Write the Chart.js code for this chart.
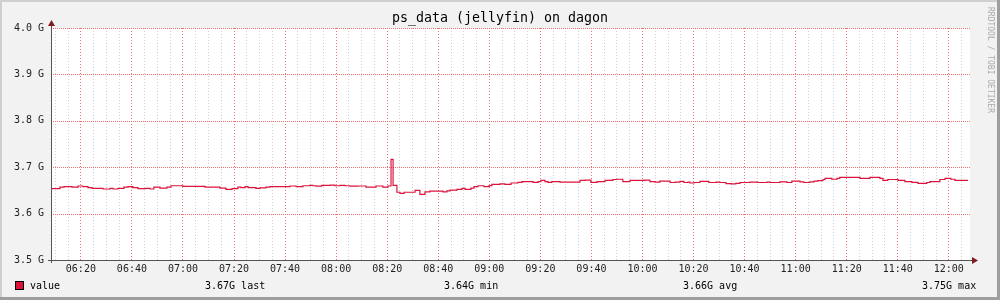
<!DOCTYPE html>
<html>
<head>
<meta charset="utf-8">
<script src="https://cdn.jsdelivr.net/npm/chart.js@4.4.1/dist/chart.umd.min.js"></script>
<style>
  html, body { margin: 0; padding: 0; background: #f2f2f2; }
  #wrap { width: 1000px; height: 300px; }
</style>
</head>
<body>
<div id="wrap"><canvas id="chart" width="1000" height="300"></canvas></div>
<script>
// time of each step, minutes after 06:00
const stepTimes = [
  8.3, 11.8, 13.4, 16.5, 18.9, 20.8, 22.8, 24.4, 28.7, 31.4, 32.6, 34.5, 36.9, 38.5, 40.4, 42.4,
  45.5, 47.1, 48.6, 51.0, 53.7, 55.3, 60.0, 68.6, 74.5, 76.8, 79.2, 81.5, 82.7, 84.3, 85.5, 88.6,
  90.2, 92.5, 94.1, 101.9, 104.3, 107.0, 109.7, 110.9, 112.1, 114.4, 117.6, 119.5, 121.5, 123.5,
  125.4, 128.5, 131.7, 135.6, 138.3, 140.3, 141.5, 142.3, 143.8, 145.0, 146.6, 150.9, 152.8, 154.8,
  156.7, 161.8, 163.4, 164.6, 167.3, 169.3, 170.5, 172.8, 174.0, 175.6, 177.9, 179.9, 181.0, 184.2,
  186.1, 188.5, 191.2, 192.8, 197.1, 199.1, 200.2, 201.8, 203.0, 204.5, 207.7, 215.5, 217.5, 219.8,
  222.2, 225.3, 228.4, 230.0, 232.3, 235.1, 241.0, 242.9, 244.9, 246.8, 250.8, 252.7, 254.7, 256.2,
  257.8, 258.6, 260.2, 262.5, 266.0, 268.8, 270.3, 272.7, 274.7, 276.6, 278.2, 282.1, 285.2, 288.8,
  289.9, 293.8, 296.6, 298.5, 301.7, 303.2, 305.6, 307.2, 308.7, 310.7, 311.5, 314.2, 316.2, 317.3,
  325.2, 329.1, 333.0, 334.2, 336.1, 340.1, 342.8, 345.5, 347.9, 351.4, 352.6, 356.5, 358.5, 360.8,
  362.4, 364.4, 367.5
];
// ps_data value in G
const dataValues = [
  3.652, 3.654, 3.657, 3.658, 3.657, 3.6595, 3.658, 3.656, 3.6545, 3.653, 3.6545, 3.653, 3.6545, 3.657, 3.658, 3.656,
  3.654, 3.6545, 3.653, 3.657, 3.655, 3.657, 3.660, 3.6588, 3.657, 3.655, 3.652, 3.654, 3.657, 3.656, 3.658, 3.656,
  3.6545, 3.6555, 3.657, 3.658, 3.6595, 3.658, 3.660, 3.661, 3.660, 3.659, 3.661, 3.6615, 3.660, 3.661,
  3.660, 3.659, 3.6595, 3.657, 3.6595, 3.657, 3.6595, 3.717, 3.661, 3.646, 3.6435, 3.646, 3.650, 3.6415,
  3.647, 3.6485, 3.647, 3.649, 3.6505, 3.652, 3.6545, 3.652, 3.655, 3.658, 3.660, 3.658, 3.6605, 3.663,
  3.664, 3.663, 3.666, 3.6675, 3.669, 3.6675, 3.669, 3.6715, 3.669, 3.6675, 3.669, 3.668, 3.6715, 3.672,
  3.6675, 3.669, 3.6715, 3.6735, 3.674, 3.669, 3.6715, 3.672, 3.669, 3.668, 3.670, 3.667, 3.668, 3.6695,
  3.667, 3.668, 3.666, 3.667, 3.6695, 3.667, 3.668, 3.667, 3.6645, 3.664, 3.665, 3.667, 3.668, 3.667,
  3.668, 3.667, 3.6685, 3.667, 3.670, 3.6685, 3.667, 3.6685, 3.670, 3.671, 3.6735, 3.676, 3.674, 3.676,
  3.678, 3.676, 3.678, 3.676, 3.6715, 3.6735, 3.6715, 3.669, 3.6675, 3.665, 3.667, 3.669, 3.6735, 3.676,
  3.674, 3.6715, 3.6715
];
const yTickValues = [3.5, 3.6, 3.7, 3.8, 3.9, 4.0];
const timeMin = 8.3;
const timeMax = 368.3;
const titleText = 'ps_data (jellyfin) on dagon';
const seriesName = 'value';
const statValues = ['3.67G', '3.64G', '3.66G', '3.75G'];
const statLabels = ['last', 'min', 'avg', 'max'];

const mono = '"DejaVu Sans Mono", monospace';
const lineColor = '#dc143c';
const majorGrid = '#f07070';
const minorGrid = '#d0d0d0';

function fmtTime(m) {
  const h = 6 + Math.floor(m / 60);
  const mm = Math.round(m % 60);
  return String(h).padStart(2, '0') + ':' + String(mm).padStart(2, '0');
}

const points = stepTimes.map((t, i) => ({ x: t, y: dataValues[i] }));

const rrdFrame = {
  id: 'rrdFrame',
  beforeDraw(chart) {
    const c = chart.ctx, a = chart.chartArea;
    c.save();
    c.fillStyle = '#f2f2f2';
    c.fillRect(0, 0, 1000, 300);
    c.fillStyle = '#cfcfcf';
    c.fillRect(0, 0, 1000, 2);
    c.fillRect(0, 0, 2, 300);
    c.fillStyle = '#9e9e9e';
    c.fillRect(0, 297, 1000, 3);
    c.fillRect(997, 0, 3, 300);
    c.fillStyle = '#ffffff';
    c.fillRect(a.left, a.top, a.right - a.left, a.bottom - a.top);
    c.restore();
  },
  beforeDatasetsDraw(chart) {
    // horizontal major grid, dotted red like rrdtool
    const c = chart.ctx, a = chart.chartArea, ys = chart.scales.y;
    c.save();
    c.strokeStyle = majorGrid;
    c.lineWidth = 1;
    c.setLineDash([1, 1]);
    yTickValues.forEach(v => {
      const py = Math.round(ys.getPixelForValue(v)) + 0.5;
      c.beginPath();
      c.moveTo(a.left, py);
      c.lineTo(a.right, py);
      c.stroke();
    });
    c.restore();
  },
  afterDraw(chart) {
    const c = chart.ctx, a = chart.chartArea;
    c.save();
    // axes
    c.strokeStyle = '#555555';
    c.lineWidth = 1;
    c.beginPath();
    c.moveTo(a.left + 0.5, a.top - 4);
    c.lineTo(a.left + 0.5, a.bottom + 3);
    c.moveTo(a.left - 3, a.bottom + 0.5);
    c.lineTo(a.right + 4, a.bottom + 0.5);
    c.stroke();
    // arrows
    c.fillStyle = '#7f1d1d';
    c.beginPath();
    c.moveTo(a.left + 0.5, a.top - 8);
    c.lineTo(a.left - 3, a.top - 2);
    c.lineTo(a.left + 4, a.top - 2);
    c.closePath();
    c.fill();
    c.beginPath();
    c.moveTo(a.right + 8, a.bottom + 0.5);
    c.lineTo(a.right + 2, a.bottom - 3);
    c.lineTo(a.right + 2, a.bottom + 4);
    c.closePath();
    c.fill();
    // title
    c.fillStyle = '#000000';
    c.font = '13.3px ' + mono;
    c.textAlign = 'center';
    c.textBaseline = 'middle';
    c.fillText(titleText, 500, 19);
    // legend
    c.font = '10px ' + mono;
    c.fillStyle = lineColor;
    c.fillRect(15, 281, 9, 9);
    c.strokeStyle = '#000000';
    c.strokeRect(15.5, 281.5, 8, 8);
    c.fillStyle = '#000000';
    c.textAlign = 'left';
    c.fillText(seriesName, 30, 286);
    const statX = [205, 444, 683, 922];
    statValues.forEach((v, i) => c.fillText(v + ' ' + statLabels[i], statX[i], 286));
    // watermark
    c.translate(990, 60);
    c.rotate(Math.PI / 2);
    c.fillStyle = '#aaaaaa';
    c.font = '8px ' + mono;
    c.textAlign = 'center';
    c.fillText('RRDTOOL / TOBI OETIKER', 0, 0);
    c.restore();
  }
};

new Chart(document.getElementById('chart'), {
  type: 'line',
  data: {
    datasets: [{
      label: seriesName,
      data: points,
      stepped: 'after',
      borderColor: lineColor,
      borderWidth: 1.2,
      pointRadius: 0,
      fill: false
    }]
  },
  options: {
    responsive: false,
    animation: false,
    devicePixelRatio: 1,
    layout: { padding: { left: 0, top: 28, right: 30, bottom: 0 } },
    plugins: { legend: { display: false }, title: { display: false }, tooltip: { enabled: false } },
    scales: {
      x: {
        type: 'linear',
        min: timeMin,
        max: timeMax,
        afterFit(scale) { scale.height = 40; },
        afterBuildTicks(scale) {
          const t = [];
          for (let m = 10; m <= 365; m += 5) t.push({ value: m });
          scale.ticks = t;
        },
        border: { display: false, dash: [1, 2] },
        grid: {
          drawTicks: false,
          lineWidth: 1,
          color: (ctx) => (ctx.tick && Math.round(ctx.tick.value) % 20 === 0) ? majorGrid : minorGrid
        },
        ticks: {
          autoSkip: false,
          maxRotation: 0,
          padding: 3,
          color: '#222222',
          font: { family: mono, size: 10 },
          callback: (v) => (Math.round(v) % 20 === 0) ? fmtTime(v) : ''
        }
      },
      y: {
        min: 3.5,
        max: 4.0,
        afterFit(scale) { scale.width = 51; },
        afterBuildTicks(scale) { scale.ticks = yTickValues.map(v => ({ value: v })); },
        border: { display: false },
        grid: { display: false, drawTicks: false },
        ticks: {
          padding: 7,
          color: '#222222',
          font: { family: mono, size: 10 },
          callback: (v) => v.toFixed(1) + ' G'
        }
      }
    }
  },
  plugins: [rrdFrame]
});
</script>
</body>
</html>
